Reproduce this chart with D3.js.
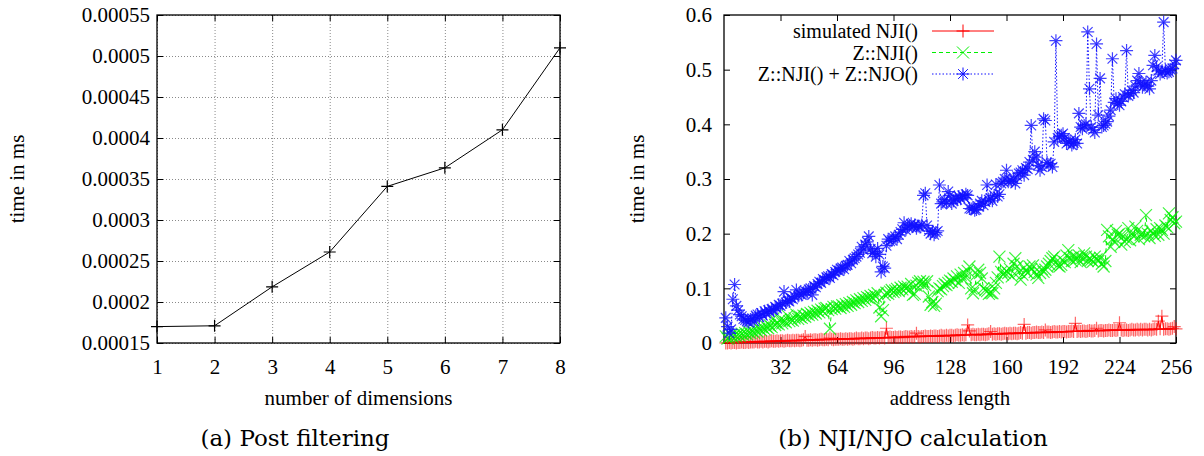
<!DOCTYPE html>
<html>
<head>
<meta charset="utf-8">
<script src="https://d3js.org/d3.v7.min.js"></script>
<style>
body { margin:0; background:#fff; }
svg text { font-family: "Liberation Serif", "Times New Roman", Times, serif; }
</style>
</head>
<body>
<svg id="drawing_region" width="1204" height="456"></svg>
<script>
// (a) post filtering
const dims = [1, 2, 3, 4, 5, 6, 7, 8];
const postTime = [0.000170, 0.000171, 0.0002185, 0.000261, 0.000341, 0.0003636, 0.000410, 0.000510];
const postYTicks = [0.00015, 0.0002, 0.00025, 0.0003, 0.00035, 0.0004, 0.00045, 0.0005, 0.00055];
const postYLabels = ["0.00015", "0.0002", "0.00025", "0.0003", "0.00035", "0.0004", "0.00045", "0.0005", "0.00055"];

// (b) NJI/NJO calculation, one value per address length 1..256
const addrTicks = [32, 64, 96, 128, 160, 192, 224, 256];
const msTicks = [0, 0.1, 0.2, 0.3, 0.4, 0.5, 0.6];
const msLabels = ["0", "0.1", "0.2", "0.3", "0.4", "0.5", "0.6"];
const seriesNames = ["simulated NJI()", "Z::NJI()", "Z::NJI() + Z::NJO()"];

const simNJI = [
    0.000, 0.000, 0.001, 0.000, 0.001, 0.001, 0.000, 0.001, 0.001, 0.002, 0.001, 0.001, 0.002, 0.001, 0.002, 0.002,
    0.002, 0.003, 0.002, 0.002, 0.003, 0.002, 0.003, 0.003, 0.002, 0.003, 0.004, 0.003, 0.003, 0.004, 0.003, 0.004,
    0.004, 0.003, 0.004, 0.005, 0.004, 0.004, 0.005, 0.004, 0.005, 0.005, 0.004, 0.005, 0.006, 0.012, 0.005, 0.005,
    0.006, 0.005, 0.006, 0.006, 0.005, 0.006, 0.007, 0.006, 0.006, 0.007, 0.006, 0.009, 0.007, 0.006, 0.007, 0.007,
    0.007, 0.008, 0.007, 0.007, 0.008, 0.007, 0.008, 0.008, 0.007, 0.008, 0.009, 0.008, 0.008, 0.009, 0.008, 0.009,
    0.009, 0.008, 0.009, 0.010, 0.009, 0.009, 0.010, 0.009, 0.010, 0.010, 0.009, 0.027, 0.010, 0.011, 0.010, 0.010,
    0.011, 0.010, 0.011, 0.011, 0.010, 0.011, 0.012, 0.011, 0.011, 0.012, 0.011, 0.012, 0.018, 0.012, 0.011, 0.012,
    0.012, 0.013, 0.012, 0.012, 0.013, 0.012, 0.013, 0.013, 0.012, 0.013, 0.014, 0.013, 0.013, 0.014, 0.013, 0.014,
    0.014, 0.013, 0.014, 0.015, 0.014, 0.014, 0.015, 0.014, 0.015, 0.033, 0.022, 0.015, 0.016, 0.015, 0.015, 0.016,
    0.015, 0.016, 0.016, 0.015, 0.016, 0.017, 0.021, 0.016, 0.017, 0.016, 0.017, 0.017, 0.016, 0.017, 0.018, 0.017,
    0.017, 0.018, 0.017, 0.018, 0.018, 0.017, 0.018, 0.019, 0.018, 0.034, 0.018, 0.019, 0.019, 0.018, 0.019, 0.019,
    0.020, 0.019, 0.019, 0.020, 0.019, 0.024, 0.020, 0.020, 0.019, 0.020, 0.021, 0.020, 0.020, 0.021, 0.020, 0.021,
    0.021, 0.020, 0.021, 0.021, 0.022, 0.021, 0.036, 0.021, 0.022, 0.021, 0.022, 0.022, 0.021, 0.022, 0.023, 0.022,
    0.022, 0.023, 0.027, 0.022, 0.023, 0.023, 0.022, 0.023, 0.023, 0.024, 0.023, 0.023, 0.024, 0.023, 0.024, 0.037,
    0.024, 0.023, 0.024, 0.024, 0.023, 0.024, 0.025, 0.024, 0.024, 0.025, 0.024, 0.025, 0.024, 0.025, 0.025, 0.024,
    0.025, 0.024, 0.025, 0.026, 0.025, 0.040, 0.026, 0.049, 0.025, 0.026, 0.026, 0.025, 0.026, 0.027, 0.030, 0.026
];

const zNJI = [
    0.012, 0.008, 0.010, 0.014, 0.011, 0.015, 0.012, 0.016, 0.013, 0.017, 0.015, 0.018, 0.016, 0.020, 0.018, 0.022,
    0.019, 0.024, 0.021, 0.026, 0.023, 0.028, 0.025, 0.030, 0.027, 0.032, 0.029, 0.045, 0.033, 0.036, 0.034, 0.043,
    0.036, 0.040, 0.038, 0.050, 0.040, 0.043, 0.041, 0.045, 0.052, 0.044, 0.048, 0.046, 0.050, 0.048, 0.053, 0.051,
    0.055, 0.052, 0.057, 0.054, 0.059, 0.056, 0.061, 0.058, 0.063, 0.064, 0.060, 0.026, 0.062, 0.066, 0.063, 0.067,
    0.067, 0.064, 0.069, 0.066, 0.071, 0.068, 0.073, 0.070, 0.075, 0.073, 0.078, 0.075, 0.080, 0.077, 0.082, 0.079,
    0.084, 0.082, 0.086, 0.083, 0.088, 0.085, 0.091, 0.065, 0.049, 0.060, 0.088, 0.092, 0.090, 0.094, 0.097, 0.093,
    0.096, 0.099, 0.095, 0.101, 0.098, 0.103, 0.100, 0.103, 0.097, 0.108, 0.088, 0.090, 0.105, 0.110, 0.113, 0.108,
    0.112, 0.106, 0.113, 0.085, 0.070, 0.075, 0.068, 0.072, 0.095, 0.100, 0.098, 0.104, 0.108, 0.106, 0.110, 0.114,
    0.112, 0.118, 0.115, 0.122, 0.110, 0.125, 0.118, 0.128, 0.120, 0.132, 0.140, 0.100, 0.091, 0.098, 0.125, 0.134,
    0.128, 0.118, 0.100, 0.097, 0.095, 0.090, 0.092, 0.091, 0.100, 0.110, 0.120, 0.158, 0.130, 0.125, 0.128, 0.132,
    0.128, 0.135, 0.122, 0.145, 0.155, 0.140, 0.130, 0.116, 0.125, 0.138, 0.132, 0.128, 0.140, 0.135, 0.142, 0.130,
    0.125, 0.119, 0.128, 0.135, 0.130, 0.134, 0.140, 0.145, 0.150, 0.155, 0.158, 0.148, 0.142, 0.140, 0.143, 0.150,
    0.148, 0.160, 0.170, 0.155, 0.150, 0.158, 0.152, 0.155, 0.160, 0.148, 0.156, 0.164, 0.158, 0.150, 0.155, 0.152,
    0.149, 0.158, 0.153, 0.150, 0.156, 0.145, 0.140, 0.150, 0.207, 0.195, 0.176, 0.190, 0.185, 0.205, 0.198, 0.200,
    0.180, 0.195, 0.185, 0.190, 0.210, 0.188, 0.200, 0.195, 0.213, 0.205, 0.190, 0.198, 0.202, 0.195, 0.234, 0.200,
    0.192, 0.205, 0.200, 0.196, 0.208, 0.198, 0.210, 0.207, 0.200, 0.215, 0.212, 0.237, 0.225, 0.230, 0.219, 0.222
];

const zNJINJO = [
    0.046, 0.030, 0.018, 0.025, 0.080, 0.107, 0.068, 0.060, 0.052, 0.049, 0.044, 0.042, 0.040, 0.038, 0.043, 0.045,
    0.040, 0.050, 0.052, 0.047, 0.055, 0.050, 0.058, 0.054, 0.060, 0.057, 0.062, 0.060, 0.066, 0.063, 0.070, 0.068,
    0.072, 0.094, 0.074, 0.078, 0.076, 0.082, 0.080, 0.085, 0.097, 0.086, 0.090, 0.088, 0.092, 0.095, 0.093, 0.098,
    0.100, 0.088, 0.104, 0.102, 0.108, 0.112, 0.110, 0.117, 0.115, 0.120, 0.122, 0.119, 0.126, 0.124, 0.130, 0.134,
    0.132, 0.136, 0.138, 0.135, 0.141, 0.143, 0.150, 0.146, 0.152, 0.155, 0.158, 0.162, 0.165, 0.176, 0.170, 0.180,
    0.185, 0.195, 0.172, 0.164, 0.168, 0.158, 0.173, 0.162, 0.130, 0.140, 0.137, 0.178, 0.190, 0.186, 0.188, 0.192,
    0.195, 0.190, 0.198, 0.203, 0.208, 0.220, 0.207, 0.212, 0.215, 0.218, 0.213, 0.216, 0.210, 0.214, 0.212, 0.216,
    0.270, 0.274, 0.215, 0.205, 0.200, 0.204, 0.198, 0.202, 0.205, 0.289, 0.255, 0.258, 0.262, 0.256, 0.277, 0.270,
    0.255, 0.260, 0.265, 0.262, 0.268, 0.264, 0.270, 0.266, 0.272, 0.270, 0.246, 0.245, 0.248, 0.243, 0.244, 0.250,
    0.255, 0.260, 0.252, 0.258, 0.289, 0.262, 0.265, 0.260, 0.270, 0.290, 0.268, 0.272, 0.292, 0.295, 0.300, 0.316,
    0.295, 0.298, 0.296, 0.300, 0.292, 0.305, 0.310, 0.312, 0.316, 0.307, 0.320, 0.318, 0.331, 0.398, 0.335, 0.350,
    0.340, 0.325, 0.316, 0.322, 0.410, 0.407, 0.330, 0.326, 0.328, 0.322, 0.368, 0.553, 0.375, 0.378, 0.380, 0.383,
    0.375, 0.365, 0.368, 0.370, 0.362, 0.366, 0.372, 0.365, 0.420, 0.395, 0.392, 0.398, 0.400, 0.569, 0.465, 0.395,
    0.390, 0.385, 0.547, 0.417, 0.484, 0.395, 0.398, 0.401, 0.405, 0.415, 0.426, 0.520, 0.440, 0.447, 0.438, 0.435,
    0.442, 0.450, 0.455, 0.535, 0.452, 0.456, 0.462, 0.458, 0.470, 0.480, 0.493, 0.475, 0.468, 0.472, 0.477, 0.470,
    0.465, 0.480, 0.508, 0.526, 0.505, 0.498, 0.492, 0.496, 0.587, 0.499, 0.494, 0.496, 0.500, 0.502, 0.510, 0.517
];

const FONT = 21;
const SERIF = '"Liberation Serif", "Times New Roman", Times, serif';

// gnuplot style point glyphs
function plusPath(s) { return `M${-s},0H${s}M0,${-s}V${s}`; }
function crossPath(s) { return `M${-s},${-s}L${s},${s}M${-s},${s}L${s},${-s}`; }
function starPath(s) { return plusPath(s) + crossPath(s * 0.75); }

const svg = d3.select('#drawing_region');

class GnuPlot {

    constructor( config ) {
        this.config = config;
        this.init();
    }

    init() {
        let self = this;
        let c = self.config;

        self.chart = svg.append('g')
            .attr('transform', `translate(${c.left}, ${c.top})`);

        self.xscale = d3.scaleLinear().domain(c.xdomain).range([0, c.width]);
        self.yscale = d3.scaleLinear().domain(c.ydomain).range([c.height, 0]);

        if (c.grid) {
            self.chart.append('g')
                .attr('transform', `translate(0, ${c.height})`)
                .call(d3.axisBottom(self.xscale).tickValues(c.xticks).tickSize(-c.height).tickFormat(''))
                .call(g => g.select('.domain').remove())
                .selectAll('line')
                .attr('stroke', '#8a8a8a').attr('stroke-dasharray', '1,2');
            self.chart.append('g')
                .call(d3.axisLeft(self.yscale).tickValues(c.yticks).tickSize(-c.width).tickFormat(''))
                .call(g => g.select('.domain').remove())
                .selectAll('line')
                .attr('stroke', '#8a8a8a').attr('stroke-dasharray', '1,2');
        }

        // inward ticks on all four sides
        const xb = self.chart.append('g')
            .attr('transform', `translate(0, ${c.height})`)
            .call(d3.axisBottom(self.xscale).tickValues(c.xticks).tickSizeInner(-6).tickSizeOuter(0)
                .tickPadding(16).tickFormat(d => d));
        const yl = self.chart.append('g')
            .call(d3.axisLeft(self.yscale).tickValues(c.yticks).tickSizeInner(-6).tickSizeOuter(0)
                .tickPadding(c.ypad).tickFormat((d, i) => c.ylabels[i]));
        self.chart.append('g')
            .call(d3.axisTop(self.xscale).tickValues(c.xticks).tickSizeInner(-6).tickSizeOuter(0).tickFormat(''));
        self.chart.append('g')
            .attr('transform', `translate(${c.width}, 0)`)
            .call(d3.axisRight(self.yscale).tickValues(c.yticks).tickSizeInner(-6).tickSizeOuter(0).tickFormat(''));

        self.chart.selectAll('.domain').remove();
        self.chart.selectAll('.tick line').filter(function() { return !this.getAttribute('stroke-dasharray'); })
            .attr('stroke', '#000');
        [xb, yl].forEach(g => g.selectAll('text')
            .attr('font-size', FONT)
            .style('font-family', SERIF)
            .attr('fill', '#000'));

        self.chart.append('rect')
            .attr('width', c.width).attr('height', c.height)
            .attr('fill', 'none').attr('stroke', '#000').attr('stroke-width', 1.3);

        self.chart.append('text')
            .attr('x', c.width / 2).attr('y', c.height + 62)
            .attr('text-anchor', 'middle').attr('font-size', FONT)
            .style('font-family', SERIF)
            .text(c.xtitle);

        self.chart.append('text')
            .attr('transform', `translate(${c.ytitleX}, ${c.height / 2}) rotate(-90)`)
            .attr('text-anchor', 'middle').attr('dy', '0.33em').attr('font-size', FONT)
            .style('font-family', SERIF)
            .text(c.ytitle);

        svg.append('text')
            .attr('x', c.captionX).attr('y', 446)
            .attr('text-anchor', 'middle')
            .attr('font-size', 23).style('font-family', '"DejaVu Serif", serif')
            .text(c.caption);
    }

    series( values, xs, color, dash, glyph, opacity ) {
        let self = this;
        const pts = values.map((v, i) => [xs[i], v]);
        const line = d3.line()
            .x(d => self.xscale(d[0]))
            .y(d => self.yscale(d[1]));

        self.chart.append('path')
            .datum(pts)
            .attr('fill', 'none')
            .attr('stroke', color)
            .attr('stroke-width', 1)
            .attr('stroke-dasharray', dash)
            .attr('d', line);

        self.chart.append('g')
            .selectAll('path')
            .data(pts)
            .join('path')
            .attr('transform', d => `translate(${self.xscale(d[0])}, ${self.yscale(d[1])})`)
            .attr('d', glyph)
            .attr('fill', 'none')
            .attr('stroke', color)
            .attr('stroke-opacity', opacity)
            .attr('stroke-width', 1.2);
    }
}

// (a)
const plotA = new GnuPlot({
    left: 157, top: 15, width: 403, height: 328,
    xdomain: [1, 8], ydomain: [0.00015, 0.00055],
    xticks: dims, yticks: postYTicks, ylabels: postYLabels,
    ypad: 7, grid: true,
    xtitle: 'number of dimensions', ytitle: 'time in ms', ytitleX: -140,
    caption: '(a) Post filtering', captionX: 295
});
plotA.series(postTime, dims, '#000', null, plusPath(6), 1);

// (b)
const addr = zNJI.map((d, i) => i + 1);
const plotB = new GnuPlot({
    left: 724, top: 15, width: 452, height: 328,
    xdomain: [0, 256], ydomain: [0, 0.6],
    xticks: addrTicks, yticks: msTicks, ylabels: msLabels,
    ypad: 12, grid: false,
    xtitle: 'address length', ytitle: 'time in ms', ytitleX: -87,
    caption: '(b) NJI/NJO calculation', captionX: 913
});

const styles = [
    { values: simNJI,  color: '#ff0000', dash: null,    glyph: plusPath(6.5),  opacity: 0.6 },
    { values: zNJI,    color: '#00f000', dash: '4,3',   glyph: crossPath(6),   opacity: 0.75 },
    { values: zNJINJO, color: '#1010ff', dash: '1.5,2', glyph: starPath(6.5),  opacity: 0.8 }
];
styles.forEach(s => plotB.series(s.values, addr, s.color, s.dash, s.glyph, s.opacity));

// legend
const legend = svg.append('g');
styles.forEach((s, i) => {
    const y = 31 + i * 21.5;
    legend.append('text')
        .attr('x', 918).attr('y', y).attr('dy', '0.35em')
        .attr('text-anchor', 'end').attr('font-size', 20)
        .style('font-family', SERIF)
        .text(seriesNames[i]);
    legend.append('line')
        .attr('x1', 932).attr('x2', 994).attr('y1', y).attr('y2', y)
        .attr('stroke', s.color).attr('stroke-dasharray', s.dash);
    legend.append('path')
        .attr('transform', `translate(963, ${y})`)
        .attr('d', s.glyph)
        .attr('fill', 'none').attr('stroke', s.color);
});
</script>
</body>
</html>
